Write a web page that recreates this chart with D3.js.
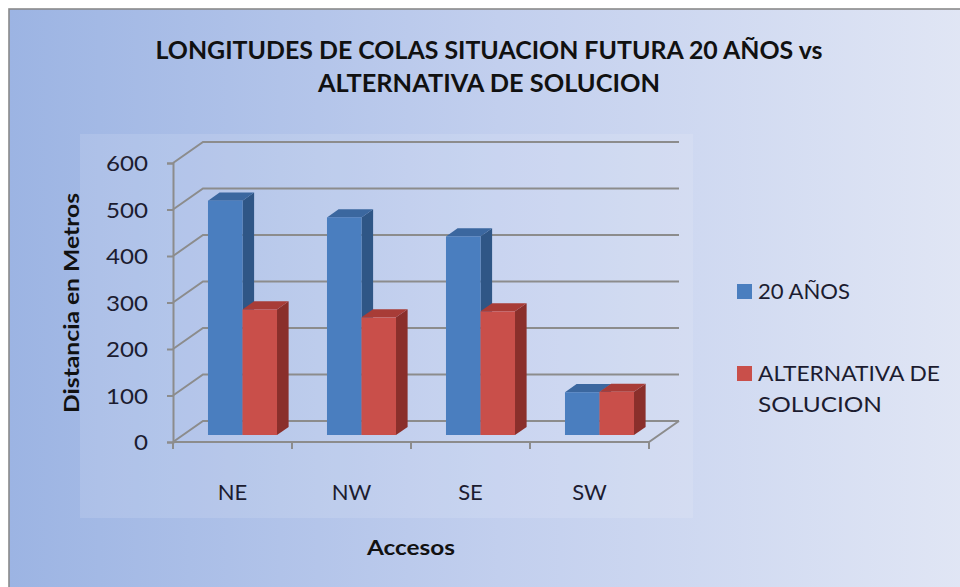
<!DOCTYPE html>
<html><head><meta charset="utf-8">
<script src="https://cdn.jsdelivr.net/npm/d3@7"></script>
<style>html,body{margin:0;padding:0;background:#fff;}svg{display:block;}</style>
</head><body>
<script>
// ---- data ----
const categories = ["NE", "NW", "SE", "SW"];
const seriesNames = ["20 AÑOS", "ALTERNATIVA DE SOLUCION"];
const values20 = [504, 468, 427, 92];
const valuesAlt = [270, 253, 266, 93];
const yTicks = [0, 100, 200, 300, 400, 500, 600];
const titleLines = ["LONGITUDES DE COLAS SITUACION FUTURA 20 AÑOS vs", "ALTERNATIVA DE SOLUCION"];
const yTitle = "Distancia en Metros";
const xTitle = "Accesos";

// ---- layout ----
const W = 960, H = 587;
const FONT = "Lato, 'Open Sans', sans-serif";
const DX = 30, DY = -21;          // full depth projection offset
const Z0 = 1/3, Z1 = 0.72;        // bar depth extents
const TXT = "#1c1c30";
const colors = [
  {front: "#4a7ebf", side: "#2f5686", top: "#3b679f"},
  {front: "#c94f4a", side: "#8a2f2b", top: "#a83c37"}
];

const svg = d3.select("body").append("svg").attr("width", W).attr("height", H);
const defs = svg.append("defs");
const g1 = defs.append("linearGradient").attr("id", "bg").attr("x1", "0%").attr("x2", "100%").attr("y1", "0%").attr("y2", "0%");
g1.append("stop").attr("offset", "0%").attr("stop-color", "#9cb4e3");
g1.append("stop").attr("offset", "50%").attr("stop-color", "#c2cfee");
g1.append("stop").attr("offset", "100%").attr("stop-color", "#e2e7f5");

svg.append("rect").attr("x", 9).attr("y", 9).attr("width", W + 20).attr("height", H + 20)
  .attr("fill", "url(#bg)").attr("stroke", "#8a8a8a").attr("stroke-width", 1.6);

// plot area
svg.append("rect").attr("x", 80).attr("y", 134).attr("width", 613).attr("height", 384)
  .attr("fill", "#ffffff").attr("fill-opacity", 0.12);

// scales (front plane)
const x0 = d3.scaleBand().domain(categories).range([173, 649]).paddingInner(0.42).paddingOuter(0.21);
const x1 = d3.scaleBand().domain(seriesNames).range([0, x0.bandwidth()]);
const y = d3.scaleLinear().domain([0, 600]).range([442, 163]);
const [xL, xR] = x0.range();

// gridlines (3D walls)
const grid = svg.append("g").attr("fill", "none").attr("stroke", "#8c8c8c").attr("stroke-width", 2);
yTicks.forEach(v => {
  const yy = y(v);
  grid.append("path").attr("d", `M${xL},${yy}L${xL + DX},${yy + DY}L${xR + DX},${yy + DY}`);
});
grid.append("path").attr("d", `M${xL},${y(0)}L${xR},${y(0)}L${xR + DX},${y(0) + DY}`);
const bounds = categories.map(c => x0(c) - x0.step() * x0.paddingInner() / 2).concat([xR]);
bounds[0] = xL;
bounds.forEach(bx => grid.append("line").attr("x1", bx).attr("x2", bx).attr("y1", y(0)).attr("y2", y(0) + 7));

// y axis
const yAxis = d3.axisLeft(y).tickValues(yTicks).tickSize(6).tickPadding(19).tickFormat(d3.format("d"));
const ya = svg.append("g").attr("transform", `translate(${xL},0)`).call(yAxis);
ya.select(".domain").attr("stroke", "#8c8c8c").attr("stroke-width", 2);
ya.selectAll(".tick line").attr("stroke", "#8c8c8c").attr("stroke-width", 2);
ya.selectAll(".tick text").attr("font-family", FONT).attr("font-size", 22).attr("fill", TXT)
  .attr("dy", "0.36em")
  .attr("textLength", d => String(d).length * 14).attr("lengthAdjust", "spacingAndGlyphs");

// bars
const seriesVals = [values20, valuesAlt];
const bars = svg.append("g");
categories.forEach((c, ci) => {
  seriesNames.forEach((s, si) => {
    const v = seriesVals[si][ci];
    const xa = x0(c) + x1(s), xb = xa + x1.bandwidth();
    const y0 = y(0), yt = y(v);
    const p = (xx, yy, z) => [xx + DX * z, yy + DY * z];
    const col = colors[si];
    const poly = pts => "M" + pts.map(q => q.join(",")).join("L") + "Z";
    bars.append("path").attr("fill", col.side)
      .attr("d", poly([p(xb, y0, Z0), p(xb, y0, Z1), p(xb, yt, Z1), p(xb, yt, Z0)]));
    bars.append("path").attr("fill", col.top)
      .attr("d", poly([p(xa, yt, Z0), p(xa, yt, Z1), p(xb, yt, Z1), p(xb, yt, Z0)]));
    const f0 = p(xa, yt, Z0), f1 = p(xb, y0, Z0);
    bars.append("rect").attr("fill", col.front)
      .attr("x", f0[0]).attr("y", f0[1]).attr("width", f1[0] - f0[0]).attr("height", f1[1] - f0[1]);
  });
});

// category labels
svg.append("g").selectAll("text").data(categories).join("text")
  .attr("x", d => x0(d) + x0.bandwidth() / 2).attr("y", 500)
  .attr("text-anchor", "middle").attr("font-family", FONT).attr("font-size", 22).attr("fill", TXT)
  .text(d => d);

// axis titles
svg.append("text").attr("x", 411).attr("y", 555).attr("text-anchor", "middle")
  .attr("font-family", FONT).attr("font-weight", "bold").attr("font-size", 21).attr("fill", "#111")
  .attr("textLength", 88).attr("lengthAdjust", "spacingAndGlyphs").text(xTitle);
svg.append("text").attr("transform", "translate(79,303) rotate(-90)").attr("text-anchor", "middle")
  .attr("font-family", FONT).attr("font-weight", "bold").attr("font-size", 21).attr("fill", "#111")
  .attr("textLength", 220).attr("lengthAdjust", "spacingAndGlyphs").text(yTitle);

// title
const titleLens = [667, 342];
const titleYs = [59, 92];
titleLines.forEach((t, i) => {
  svg.append("text").attr("x", 489).attr("y", titleYs[i]).attr("text-anchor", "middle")
    .attr("font-family", FONT).attr("font-weight", "bold").attr("font-size", 24).attr("fill", "#111")
    .attr("textLength", titleLens[i]).attr("lengthAdjust", "spacingAndGlyphs").text(t);
});

// legend
const legendLines = [["20 AÑOS"], ["ALTERNATIVA DE", "SOLUCION"]];
const legendLens = [[92], [182, 124]];
const legendYs = [299, 381];
seriesNames.forEach((s, i) => {
  svg.append("rect").attr("x", 737).attr("y", legendYs[i] - 15).attr("width", 15).attr("height", 15)
    .attr("fill", colors[i].front);
  legendLines[i].forEach((ln, j) => {
    svg.append("text").attr("x", 758).attr("y", legendYs[i] + j * 31)
      .attr("font-family", FONT).attr("font-size", 22).attr("fill", TXT)
      .attr("textLength", legendLens[i][j]).attr("lengthAdjust", "spacingAndGlyphs").text(ln);
  });
});
</script>
</body></html>
